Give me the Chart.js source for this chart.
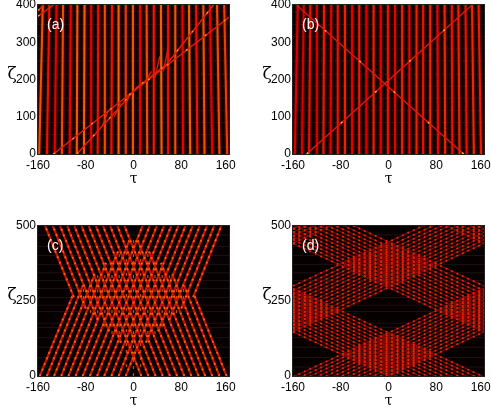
<!DOCTYPE html>
<html>
<head>
<meta charset="utf-8">
<title>Soliton panels</title>
<script src="https://cdn.jsdelivr.net/npm/chart.js@4"></script>
<style>
  html, body { margin: 0; padding: 0; background: #fff; overflow: hidden; }
  #page { position: relative; width: 491px; height: 407px; }
  canvas { position: absolute; filter: blur(0.4px); }
</style>
</head>
<body>
<div id="page">
  <canvas id="panel-a" width="245" height="203" style="left:0;top:0"></canvas>
  <canvas id="panel-b" width="246" height="203" style="left:245px;top:0"></canvas>
  <canvas id="panel-c" width="245" height="204" style="left:0;top:203px"></canvas>
  <canvas id="panel-d" width="246" height="204" style="left:245px;top:203px"></canvas>
</div>
<script>
// tick labels
const tauTicks = [-160, -80, 0, 80, 160];
const zetaTicksTop = [0, 100, 200, 300, 400];
const zetaTicksBottom = [0, 250, 500];

// (a) filaments: tau at zeta=0, tau at zeta=400, peak height
const aTauBottom = [-158, -145, -132, -120, -107, -95, -83, -71, -60, -49, -37, -25, -13, -1, 11, 23, 34, 47, 59, 71, 83, 95, 107, 119, 132, 144, 157];
const aTauTop = [-152, -141, -129, -118, -105, -94, -82, -71, -59, -48, -36, -25, -13, -1, 11, 22, 34, 46, 58, 70, 82, 93, 105, 117, 128, 140, 152];
const aPeak = [0.68, 0.5, 0.42, 0.66, 0.45, 0.7, 0.72, 0.42, 0.5, 0.66, 0.5, 0.72, 0.62, 0.7, 0.42, 0.66, 0.52, 0.72, 0.5, 0.68, 0.45, 0.72, 0.5, 0.68, 0.44, 0.66, 0.62];
// (a) oblique solitons
const aObliqueTau = [[-134, -45, 8, 60, 160], [-95, -35, 5, 55, 134], [-160, -134], [-160, -150]];
const aObliqueZeta = [[0, 112, 178, 243, 367], [0, 105, 178, 240, 400], [370, 400], [385, 400]];
const aRungTau = [[-52, -42], [-32, -22], [-14, -6], [20, 30], [36, 44], [50, 58]];
const aRungZeta = [[76, 118], [100, 136], [130, 160], [195, 222], [205, 262], [222, 285]];

// (b) filaments and the crossing pair
const bTauBottom = [-157, -145, -133, -121, -109, -97, -85, -73, -61, -49, -37, -25, -13, -1, 11, 23, 35, 47, 59, 71, 83, 95, 107, 119, 131, 143, 155];
const bTauTop = [-152, -142, -131, -120, -108, -96, -85, -73, -61, -49, -37, -25, -13, -1, 11, 23, 35, 47, 58, 70, 82, 94, 106, 117, 129, 140, 151];
const bPeak = [0.4, 0.36, 0.5, 0.36, 0.52, 0.42, 0.5, 0.54, 0.42, 0.52, 0.4, 0.54, 0.44, 0.5, 0.42, 0.56, 0.46, 0.54, 0.5, 0.56, 0.46, 0.56, 0.5, 0.54, 0.5, 0.56, 0.52];
const bObliqueTau = [[-137, 140], [126, -154]];
const bObliqueZeta = [[0, 400], [0, 400]];

// (c) rising lines, from bottom left to the far edge of the diamond or the top
const cRiseTauStart = [-157, -145, -133, -121, -109, -97, -85, -73, -61, -49, -37, -25, -13, 21, 41, 60, 80, 100];
const cRiseZetaStart = [0, 0, 0, 0, 0, 0, 0, 0, 0, 0, 0, 0, 0, 111, 149, 187, 225, 263];
const cRiseTauEnd = [-102, -85, -65, -46, -26, -7, 15, 27, 39, 51, 63, 75, 87, 99, 111, 123, 135, 147];
const cRiseZetaEnd = [268, 301, 339, 377, 415, 452, 500, 500, 500, 500, 500, 500, 500, 500, 500, 500, 500, 500];
// (c) falling lines, from bottom right to the top left
const cFallTauStart = [156, 144, 132, 120, 109, 97, 85, 73, 61, 49, 37, 25, 13, -21, -41, -60, -80, -100];
const cFallZetaStart = [0, 0, 0, 0, 0, 0, 0, 0, 0, 0, 0, 0, 0, 111, 149, 187, 225, 263];
const cFallTauEnd = [102, 85, 65, 46, 26, 7, -15, -27, -39, -51, -63, -75, -87, -99, -111, -123, -135, -148];
const cFallZetaEnd = [268, 301, 339, 377, 415, 452, 500, 500, 500, 500, 500, 500, 500, 500, 500, 500, 500, 500];
// (c) standing columns inside the diamond
const cColumnTau = [-84, -72, -60, -48, -36, -24, -12, 0, 12, 24, 36, 48, 60, 72, 84];
const cColumnLow = [233, 210, 186, 163, 140, 117, 30, 0, 30, 117, 140, 163, 186, 210, 233];
const cColumnHigh = [303, 326, 349, 372, 395, 418, 441, 465, 441, 418, 395, 372, 349, 326, 303];

// (d) bands: zeta of each line where it meets tau=-160 and tau=160
const dLineLeft = [-147, -135, -123, -111, -99, -87, -75, -63, -51, -39, -27, -15, -3, 148, 160, 172, 185, 197, 210, 222, 235, 247, 260, 272, 285, 300, 443, 455, 467, 479, 491, 503];
const dLineRight = [147, 159, 171, 183, 195, 207, 219, 231, 243, 255, 267, 279, 291, 442, 454, 466, 479, 491, 504, 516, 529, 541, 554, 566, 579, 594, 737, 749, 761, 773, 785, 797];
// (d) bright overlap zones: column offset, half height, zone centres
const dZoneOffset = [-72, -64, -56, -48, -40, -32, -24, -16, -8, 0, 8, 16, 24, 32, 40, 48, 56, 64, 72];
const dZoneHalf = [7, 14, 22, 29, 37, 44, 51, 59, 66, 73, 66, 59, 51, 44, 37, 29, 22, 14, 7];
const dZoneTau = [0, 0, -160, 160];
const dZoneZeta = [73, 371, 221, 221];

// faint horizontal banding of the plot
const stripeZetaTop = [18, 52, 84, 116, 150, 182, 214, 250, 282, 316, 348, 382];
const stripeZetaBottom = [30, 62, 96, 128, 162, 176, 215, 236, 262, 292, 318, 344, 372, 402, 432, 470];

function heat(p) {
    const r = Math.min(235, 130 + 230 * p);
    const g = Math.max(0, Math.min(255, (p - 0.45) * 370));
    return `rgb(${Math.round(r)},${Math.round(g)},0)`;
}

function addLine(list, taus, zetas, color, width, dash) {
    list.push({
        data: taus.map((t, i) => ({ x: t, y: zetas[i] })),
        showLine: true,
        pointRadius: 0,
        borderColor: color,
        borderWidth: width,
        borderDash: dash || [],
        borderCapStyle: 'butt',
        tension: 0
    });
}

function addStripes(list, stripes) {
    stripes.forEach(z => addLine(list, [-160, 160], [z, z], 'rgba(120,90,90,0.2)', 1));
}

function addBeaded(list, taus, zetas) {
    addLine(list, taus, zetas, 'rgb(205,16,6)', 2.1);
    addLine(list, taus, zetas, 'rgb(250,95,8)', 1.9, [2, 4]);
}

function addBandLine(list, taus, zetas) {
    addLine(list, taus, zetas, 'rgb(125,8,4)', 1.2);
    addLine(list, taus, zetas, 'rgb(228,35,8)', 1.8, [2, 4]);
}

function filaments(bottom, top, zetaMax) {
    const list = [];
    bottom.forEach((t, i) => addLine(list, [t, top[i]], [0, zetaMax], 'rgba(125,0,0,0.45)', 5));
    return list;
}

function filamentCores(list, bottom, top, peak, zetaMax) {
    bottom.forEach((t, i) => addLine(list, [t, top[i]], [0, zetaMax], heat(peak[i]), 2.1));
}

// panel a
const aSets = filaments(aTauBottom, aTauTop, 400);
addStripes(aSets, stripeZetaTop);
filamentCores(aSets, aTauBottom, aTauTop, aPeak, 400);
aRungTau.forEach((t, i) => addLine(aSets, t, aRungZeta[i], 'rgb(225,30,8)', 1.3));
aObliqueTau.forEach((t, i) => addLine(aSets, t, aObliqueZeta[i], 'rgb(225,30,8)', 1.5));
aObliqueTau.forEach((t, i) => addLine(aSets, t, aObliqueZeta[i], 'rgb(250,150,20)', 1.4, [2, 22]));

// panel b
const bSets = filaments(bTauBottom, bTauTop, 400);
addStripes(bSets, stripeZetaTop);
filamentCores(bSets, bTauBottom, bTauTop, bPeak, 400);
bObliqueTau.forEach((t, i) => addLine(bSets, t, bObliqueZeta[i], 'rgb(215,25,8)', 1.5));
bObliqueTau.forEach((t, i) => addLine(bSets, t, bObliqueZeta[i], 'rgb(250,180,30)', 1.5, [2, 44]));

// panel c
const cSets = [];
addStripes(cSets, stripeZetaBottom);
cColumnTau.forEach((t, i) => addLine(cSets, [t, t], [cColumnLow[i], cColumnHigh[i]], 'rgb(205,75,6)', 1.2, [3, 4]));
cRiseTauStart.forEach((t, i) => addBeaded(cSets, [t, cRiseTauEnd[i]], [cRiseZetaStart[i], cRiseZetaEnd[i]]));
cFallTauStart.forEach((t, i) => addBeaded(cSets, [t, cFallTauEnd[i]], [cFallZetaStart[i], cFallZetaEnd[i]]));

// panel d
const dSets = [];
addStripes(dSets, stripeZetaBottom);
dZoneTau.forEach((t, z) => {
    dZoneOffset.forEach((off, i) => {
        const mid = dZoneZeta[z];
        addLine(dSets, [t + off, t + off], [mid - dZoneHalf[i], mid + dZoneHalf[i]], 'rgba(200,24,10,0.6)', 3);
    });
});
dLineLeft.forEach((z, i) => {
    addBandLine(dSets, [-160, 160], [z, dLineRight[i]]);
    addBandLine(dSets, [-160, 160], [dLineRight[i], z]);
});

// black plot background, frame and the labels that stay upright
function panelPlugin(tag) {
    return {
        id: 'panel' + tag,
        beforeDatasetsDraw(chart) {
            const a = chart.chartArea;
            chart.ctx.save();
            chart.ctx.fillStyle = '#070000';
            chart.ctx.fillRect(a.left, a.top, a.right - a.left, a.bottom - a.top);
            chart.ctx.restore();
        },
        afterDraw(chart) {
            const a = chart.chartArea;
            const c = chart.ctx;
            c.save();
            c.strokeStyle = '#222';
            c.strokeRect(a.left - 0.5, a.top - 0.5, a.right - a.left + 1, a.bottom - a.top + 1);
            c.fillStyle = '#fff';
            c.font = '14px "Liberation Sans"';
            c.textBaseline = 'middle';
            c.fillText(tag, a.left + 9, a.top + 20);
            c.fillStyle = '#000';
            c.font = '17px "DejaVu Serif"';
            c.textAlign = 'center';
            c.fillText('ζ', a.left - 26, (a.top + a.bottom) / 2 - 5);
            c.restore();
        }
    };
}

function drawPanel(id, tag, sets, zetaMax, zetaTicks, pad) {
    const font = { family: '"Liberation Sans"', size: 12 };
    new Chart(document.getElementById(id), {
        type: 'scatter',
        data: { datasets: sets.slice().reverse() },
        options: {
            responsive: false,
            animation: false,
            events: [],
            layout: { padding: pad },
            plugins: { legend: { display: false }, tooltip: { enabled: false } },
            scales: {
                x: {
                    min: -160,
                    max: 160,
                    grid: { display: false, drawTicks: false },
                    border: { color: '#222' },
                    title: { display: true, text: 'τ', color: '#000', font: { family: '"DejaVu Serif"', size: 14 }, padding: { top: 1, bottom: 0 } },
                    ticks: {
                        color: '#000',
                        font: font,
                        padding: 4,
                        autoSkip: false,
                        maxRotation: 0,
                        callback: v => (v === 160 ? '160  ' : String(v))
                    },
                    afterBuildTicks: s => { s.ticks = tauTicks.map(v => ({ value: v })); },
                    afterFit: s => { s.height = 34; s.paddingLeft = 0; s.paddingRight = 0; }
                },
                y: {
                    min: 0,
                    max: zetaMax,
                    grid: { display: false, drawTicks: false },
                    border: { color: '#222' },
                    ticks: { color: '#000', font: font, padding: 2, autoSkip: false },
                    afterBuildTicks: s => { s.ticks = zetaTicks.map(v => ({ value: v })); },
                    afterFit: s => { s.width = pad.yWidth; s.paddingTop = 0; s.paddingBottom = 0; }
                }
            }
        },
        plugins: [panelPlugin(tag)]
    });
}

drawPanel('panel-a', '(a)', aSets, 400, zetaTicksTop, { left: 0, right: 16, top: 5, bottom: 15, yWidth: 38 });
drawPanel('panel-b', '(b)', bSets, 400, zetaTicksTop, { left: 0, right: 7, top: 5, bottom: 15, yWidth: 48 });
drawPanel('panel-c', '(c)', cSets, 500, zetaTicksBottom, { left: 0, right: 16, top: 23, bottom: -3, yWidth: 38 });
drawPanel('panel-d', '(d)', dSets, 500, zetaTicksBottom, { left: 0, right: 7, top: 23, bottom: -3, yWidth: 48 });
</script>
</body>
</html>
